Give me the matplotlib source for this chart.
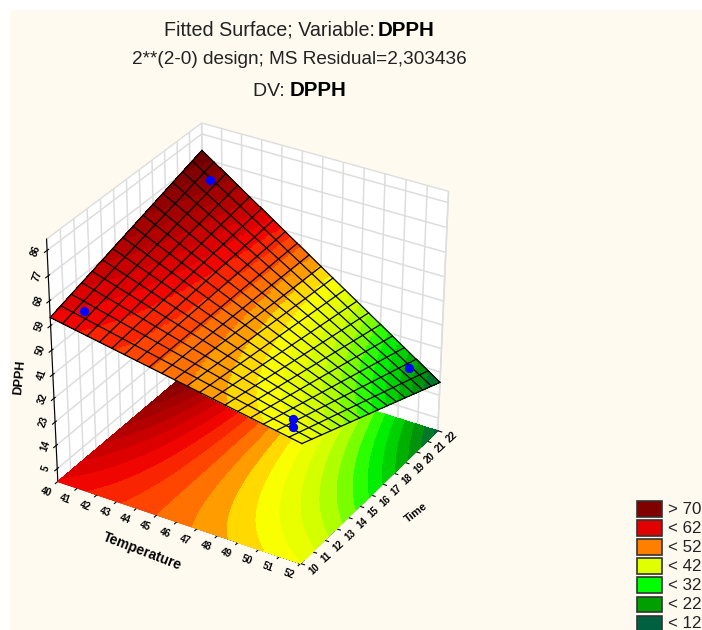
import numpy as np
import matplotlib
matplotlib.use('Agg')
import matplotlib.pyplot as plt
from matplotlib.colors import LinearSegmentedColormap, BoundaryNorm
from matplotlib.patches import Rectangle
from mpl_toolkits.mplot3d import proj3d

# surface heights at the corners of the plotted range
corner_x = [40, 52]
corner_y = [10, 22]
corner_z = [[62, 80], [45, 19]]  # rows follow x, columns follow y

# observed runs (the blue points)
obs_x = [41, 41, 51, 51, 51]
obs_y = [11, 21, 11, 11, 21]
obs_z = [63, 74.5, 44.5, 47.5, 26.3]

x_ticks = list(range(40, 53))
y_ticks = list(range(10, 23))
z_ticks = [5, 14, 23, 32, 41, 50, 59, 68, 77, 86]

legend_labels = ['> 70', '< 62', '< 52', '< 42', '< 32', '< 22', '< 12']
legend_colors = ['#800000', '#e00000', '#ff8000', '#e0ff00', '#00ff00', '#00a000', '#006040']

ramp_values = [10, 18, 24, 32, 37, 42, 47, 52, 57, 62, 70, 80]
ramp_colors = ['#005a40', '#006040', '#00a000', '#00ff00', '#a0ff00', '#e0ff00', '#ffff00',
               '#ff9000', '#ff4000', '#f00000', '#b00000', '#700000']

BG = '#fefaf0'
plt.rcParams['font.family'] = ['Liberation Sans', 'DejaVu Sans']

cmap = LinearSegmentedColormap.from_list(
    'dpph', [((v - 10) / 70, c) for v, c in zip(ramp_values, ramp_colors)])
levels = np.arange(10, 82.5, 2.5)
norm = BoundaryNorm(levels, cmap.N)


def fitted(x, y):
    # 2**2 design: the fit is bilinear between the four corners
    u = (x - corner_x[0]) / (corner_x[1] - corner_x[0])
    v = (y - corner_y[0]) / (corner_y[1] - corner_y[0])
    c = corner_z
    return (c[0][0] * (1 - u) * (1 - v) + c[0][1] * (1 - u) * v
            + c[1][0] * u * (1 - v) + c[1][1] * u * v)


fig = plt.figure(figsize=(7.02, 6.30), dpi=100, facecolor='white')
fig.patches.append(Rectangle((10 / 702, 0), 692 / 702, 620 / 630, transform=fig.transFigure,
                             facecolor=BG, edgecolor='none', zorder=-5))

ax = fig.add_axes([-8.27 / 702, 59.46 / 630, 503 / 702, 451.4 / 630], projection='3d', computed_zorder=False)
# 3d axes force a square box, the reference is wider than that
ax.apply_aspect = lambda position=None: None
ax.patch.set_alpha(0)
ax.set_proj_type('persp', focal_length=1.218)
ax.view_init(elev=34.75, azim=-59.04)
ax.set_box_aspect((1.006, 1, 1.151))

xs = np.linspace(corner_x[0], corner_x[1], 161)
ys = np.linspace(corner_y[0], corner_y[1], 161)
X, Y = np.meshgrid(xs, ys, indexing='ij')
Z = fitted(X, Y)

ax.contourf(X, Y, Z, levels=levels, cmap=cmap, norm=norm, zdir='z', offset=0, zorder=1, extend='both')

ax.plot_surface(X, Y, Z, rstride=1, cstride=1, facecolors=cmap(norm(Z)), shade=False,
                linewidth=0, antialiased=False, zorder=2)

xw = np.linspace(corner_x[0], corner_x[1], 21)
yw = np.linspace(corner_y[0], corner_y[1], 16)
for xv in xw:
    ax.plot(np.full_like(yw, xv), yw, fitted(xv, yw), color='black', lw=0.9, zorder=3)
for yv in yw:
    ax.plot(xw, np.full_like(xw, yv), fitted(xw, yv), color='black', lw=0.9, zorder=3)

ax.scatter(obs_x, obs_y, obs_z, color='#0000ff', s=32, depthshade=False, zorder=4)

ax.set_xlim(corner_x)
ax.set_ylim(corner_y)
ax.set_zlim(0, 90)
ax.set_xticks(x_ticks)
ax.set_yticks(y_ticks)
ax.set_zticks(z_ticks)
ax.zaxis.set_ticks_position('lower')
ax.set_xticklabels([])
ax.set_yticklabels([])
ax.set_zticklabels([])
for a in (ax.xaxis, ax.yaxis, ax.zaxis):
    a.set_pane_color((1, 1, 1, 1))
    a.pane.set_edgecolor('#dddddd')
    a._axinfo['grid'].update(color='#dddddd', linewidth=1.1)
    a.line.set_color('black')


def label_at(x, y, z, dx, dy, text, rot, size=7):
    # place a label a few pixels away from a point of the 3d box
    xp, yp, _ = proj3d.proj_transform(x, y, z, ax.get_proj())
    px, py = ax.transData.transform((xp, yp))
    fig.text((px + dx) / 702, (py - dy) / 630, text, fontsize=size, fontweight='bold',
             rotation=rot, rotation_mode='anchor', ha='center', va='center', color='black')


for v in x_ticks:
    label_at(v, corner_y[0], 0, -12, 11, str(v), -20)
for v in y_ticks:
    label_at(corner_x[1], v, 0, 14, 6, str(v), 42)
for v in z_ticks:
    label_at(corner_x[0], corner_y[0], v, -11, 0, str(v), 70)

fig.text(142 / 702, 1 - 551 / 630, 'Temperature', fontsize=10, fontweight='bold', rotation=-21,
         rotation_mode='anchor', ha='center', va='center')
fig.text(416 / 702, 1 - 513 / 630, 'Time', fontsize=8, fontweight='bold', rotation=38,
         rotation_mode='anchor', ha='center', va='center')
fig.text(20 / 702, 1 - 377 / 630, 'DPPH', fontsize=9, fontweight='bold', rotation=85,
         rotation_mode='anchor', ha='center', va='center')

fig.text(380 / 702, 1 - 30 / 630, 'Fitted Surface; Variable: ', fontsize=14.2, ha='right', va='center', color='#222222')
fig.text(378 / 702, 1 - 30 / 630, 'DPPH', fontsize=14.8, fontweight='bold', ha='left', va='center', color='black')
fig.text(299 / 702, 1 - 60 / 630, '2**(2-0) design; MS Residual=2,303436', fontsize=13.7, ha='center', va='center', color='#222222')
fig.text(290 / 702, 1 - 91 / 630, 'DV: ', fontsize=14, ha='right', va='center', color='#222222')
fig.text(290 / 702, 1 - 91 / 630, 'DPPH', fontsize=14.8, fontweight='bold', ha='left', va='center', color='black')

for i, (lab, col) in enumerate(zip(legend_labels, legend_colors)):
    y = 501 + i * 19.1
    fig.patches.append(Rectangle((637 / 702, 1 - (y + 15.5) / 630), 25 / 702, 15.5 / 630, transform=fig.transFigure,
                                 facecolor=col, edgecolor='#333333', lw=1.2, zorder=5))
    fig.text(668 / 702, 1 - (y + 8) / 630, lab, fontsize=12.2, va='center', ha='left', color='#222222')

fig.savefig('out.png', dpi=100, facecolor=fig.get_facecolor())
